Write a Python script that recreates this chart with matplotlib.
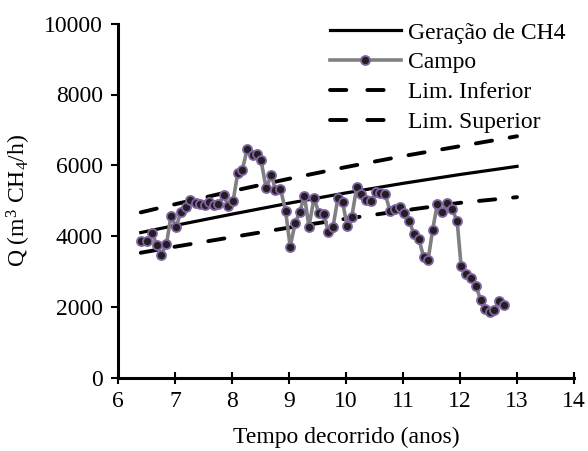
import matplotlib
matplotlib.use("Agg")
import matplotlib.pyplot as plt

plt.rcParams['font.family'] = ['Liberation Serif', 'DejaVu Serif']
plt.rcParams['mathtext.fontset'] = 'custom'
plt.rcParams['mathtext.rm'] = 'Liberation Serif'
plt.rcParams['mathtext.it'] = 'Liberation Serif:italic'

# Campo (field) data
campo_x = [6.41, 6.51, 6.60, 6.68, 6.76, 6.85, 6.93, 7.02, 7.10, 7.19,
           7.27, 7.36, 7.43, 7.52, 7.59, 7.68, 7.76, 7.86, 7.93, 8.02,
           8.10, 8.18, 8.27, 8.36, 8.43, 8.51, 8.60, 8.69, 8.76, 8.85,
           8.94, 9.02, 9.11, 9.19, 9.27, 9.35, 9.44, 9.52, 9.61, 9.69,
           9.77, 9.86, 9.94, 10.02, 10.10, 10.19, 10.27, 10.35, 10.44, 10.52,
           10.60, 10.69, 10.77, 10.86, 10.94, 11.02, 11.11, 11.19, 11.28, 11.36,
           11.44, 11.52, 11.60, 11.69, 11.78, 11.86, 11.95, 12.02, 12.10, 12.20,
           12.28, 12.36, 12.44, 12.53, 12.60, 12.68, 12.78]
campo_y = [3853, 3870, 4088, 3743, 3480, 3771, 4577, 4243, 4681, 4808,
           5020, 4935, 4916, 4870, 4972, 4870, 4907, 5147, 4842, 5000,
           5769, 5873, 6469, 6277, 6320, 6136, 5345, 5740, 5311, 5339,
           4718, 3706, 4379, 4690, 5142, 4266, 5082, 4661, 4625, 4122,
           4249, 5085, 4964, 4286, 4534, 5396, 5195, 5020, 4983, 5232,
           5223, 5181, 4718, 4757, 4828, 4639, 4427, 4060, 3910, 3418,
           3325, 4173, 4893, 4690, 4921, 4766, 4421, 3147, 2930, 2811,
           2591, 2209, 1941, 1865, 1904, 2161, 2045]

# Model curve and limits
model_x = [6.4, 7, 8, 9, 10, 11, 12, 13]
geracao = [4100, 4300, 4620, 4930, 5220, 5490, 5740, 5970]
lim_inf = [3530, 3700, 3970, 4240, 4490, 4720, 4940, 5100]
lim_sup = [4670, 4900, 5270, 5620, 5950, 6260, 6540, 6820]

x_ticks = [6, 7, 8, 9, 10, 11, 12, 13, 14]
y_ticks = [0, 2000, 4000, 6000, 8000, 10000]

fig = plt.figure(figsize=(5.88, 4.51), dpi=100)
ax = fig.add_axes([118/588, 1-377.7/451, (574-118)/588, (377.7-23.7)/451])

fs = 17

ax.plot(model_x, geracao, color='black', lw=2.3, label='Geração de CH4', zorder=3)
ax.plot(campo_x, campo_y, color='#808080', lw=2.6, marker='o', ms=6.5,
        mfc='#231F20', mec='#8064A2', mew=1.3, label='Campo', zorder=4)
ax.plot(model_x, lim_inf, color='black', lw=2.8, dashes=(4.2, 4.6),
        dash_capstyle='round', label='Lim. Inferior', zorder=3)
ax.plot(model_x, lim_sup, color='black', lw=2.8, dashes=(4.2, 4.6),
        dash_capstyle='round', label='Lim. Superior', zorder=3)

ax.set_xlim(6, 14)
ax.set_ylim(0, 10000)
ax.set_xticks(x_ticks)
ax.set_yticks(y_ticks)
ax.set_xticklabels([str(t) for t in x_ticks], fontsize=fs)
ax.set_yticklabels([str(t) for t in y_ticks], fontsize=fs)

for s in ['top', 'right']:
    ax.spines[s].set_visible(False)
for s in ['left', 'bottom']:
    ax.spines[s].set_linewidth(2.2)
ax.tick_params(axis='y', direction='out', length=5, width=1.5, pad=6)
ax.tick_params(axis='x', direction='inout', length=9, width=1.5, pad=5)

ax.set_xlabel('Tempo decorrido (anos)', fontsize=fs, labelpad=11)
ax.set_ylabel('Q (m$^3$ CH$_4$/h)', fontsize=fs, labelpad=8)

leg = fig.legend(loc='upper left', bbox_to_anchor=(330/588, 1-22/451),
                 frameon=False, fontsize=fs, handlelength=3.0,
                 handletextpad=0.3, labelspacing=0.35, borderpad=0,
                 borderaxespad=0)
for h in leg.get_lines():
    if h.get_label() in ('Lim. Inferior', 'Lim. Superior') or h.get_linestyle() not in ('-', 'solid'):
        h.set_dashes((4.2, 5.4))

fig.savefig('out.png', dpi=100)
